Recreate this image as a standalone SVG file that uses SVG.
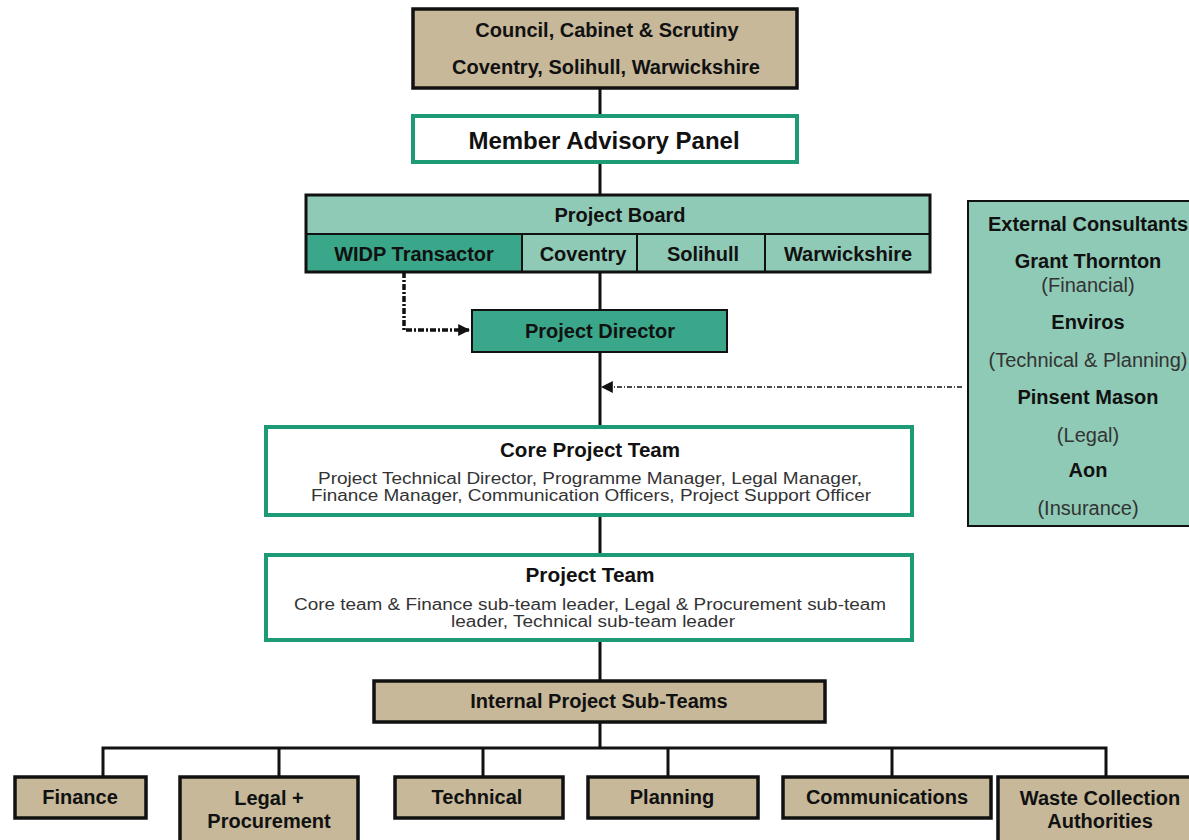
<svg xmlns="http://www.w3.org/2000/svg" width="1189" height="840" viewBox="0 0 1189 840">
<style>
text{font-family:"Liberation Sans",Arial,sans-serif;fill:#111;text-anchor:middle;dominant-baseline:central}
.b{font-weight:bold}
.tan{fill:#c6b899;stroke:#111;stroke-width:3.5}
.grn{fill:#fff;stroke:#1d9a76;stroke-width:4}
.lt{fill:#8fcab6;stroke:#111;stroke-width:2}
.dk{fill:#3aa68a;stroke:#111;stroke-width:2}
.ln{stroke:#111;stroke-width:3;fill:none}
.n{font-size:16px;fill:#333}
.r{font-size:20px;fill:#333}
.f{font-size:20px}
</style>
<defs>
<marker id="ah2" viewBox="0 0 10 10" refX="9" refY="5" markerWidth="12" markerHeight="12" orient="auto" markerUnits="userSpaceOnUse">
<path d="M0,0 L10,5 L0,10 z" fill="#111"/>
</marker>
</defs>
<g id="connectors">
<path class="ln" d="M600,88 V115 M600,162 V195 M600,272 V310 M600,352 V426 M600,515 V554 M600,640 V680 M600,722 V748"/>
<path class="ln" d="M103,776 V748 H1106 V776 M279,748 V776 M483,748 V776 M668,748 V776 M892,748 V776"/>
<path d="M404,272 V330 H469" fill="none" stroke="#111" stroke-width="3.5" stroke-dasharray="6,2,2,2" marker-end="url(#ah2)"/>
<path d="M962,387 H602" fill="none" stroke="#111" stroke-width="1.5" stroke-dasharray="5,2,1,2" marker-end="url(#ah2)"/>
</g>
<g id="council">
<rect class="tan" x="413" y="9" width="384" height="79"/>
<text class="b f" x="607" y="30">Council, Cabinet &amp; Scrutiny</text>
<text class="b f" x="606" y="67">Coventry, Solihull, Warwickshire</text>
</g>
<g id="member-advisory-panel">
<rect class="grn" x="413" y="116" width="384" height="46"/>
<text class="b" x="604" y="140" font-size="24">Member Advisory Panel</text>
</g>
<g id="project-board">
<rect class="lt" x="306" y="195" width="624" height="39"/>
<text class="b f" x="620" y="215">Project Board</text>
<rect class="dk" x="306" y="234" width="216" height="38"/>
<text class="b f" x="414" y="254">WIDP Transactor</text>
<rect class="lt" x="522" y="234" width="115" height="38"/>
<text class="b f" x="583" y="254">Coventry</text>
<rect class="lt" x="637" y="234" width="128" height="38"/>
<text class="b f" x="703" y="254">Solihull</text>
<rect class="lt" x="765" y="234" width="165" height="38"/>
<text class="b f" x="848" y="254">Warwickshire</text>
<rect x="306" y="195" width="624" height="77" fill="none" stroke="#111" stroke-width="3"/>
</g>
<g id="project-director">
<rect class="dk" x="472" y="310" width="255" height="42" stroke-width="3"/>
<text class="b f" x="600" y="331">Project Director</text>
</g>
<g id="external-consultants">
<rect class="lt" x="968" y="201" width="230" height="325" stroke-width="3.5"/>
<text class="b f" x="1088" y="224">External Consultants</text>
<text class="b f" x="1088" y="261">Grant Thornton</text>
<text class="r" x="1088" y="285">(Financial)</text>
<text class="b f" x="1088" y="322">Enviros</text>
<text class="r" x="1088" y="360">(Technical &amp; Planning)</text>
<text class="b f" x="1088" y="397">Pinsent Mason</text>
<text class="r" x="1088" y="435">(Legal)</text>
<text class="b f" x="1088" y="470">Aon</text>
<text class="r" x="1088" y="508">(Insurance)</text>
</g>
<g id="core-project-team">
<rect class="grn" x="266" y="427" width="646" height="88"/>
<text class="b" x="590" y="450" font-size="20" textLength="180" lengthAdjust="spacingAndGlyphs">Core Project Team</text>
<text class="n" x="590" y="478" textLength="544" lengthAdjust="spacingAndGlyphs">Project Technical Director, Programme Manager, Legal Manager,</text>
<text class="n" x="591" y="495" textLength="560" lengthAdjust="spacingAndGlyphs">Finance Manager, Communication Officers, Project Support Officer</text>
</g>
<g id="project-team">
<rect class="grn" x="266" y="555" width="646" height="85"/>
<text class="b" x="590" y="575" font-size="20" textLength="129" lengthAdjust="spacingAndGlyphs">Project Team</text>
<text class="n" x="590" y="604" textLength="592" lengthAdjust="spacingAndGlyphs">Core team &amp; Finance sub-team leader, Legal &amp; Procurement sub-team</text>
<text class="n" x="593" y="621" textLength="284" lengthAdjust="spacingAndGlyphs">leader, Technical sub-team leader</text>
</g>
<g id="internal-sub-teams">
<rect class="tan" x="374" y="681" width="451" height="41"/>
<text class="b f" x="599" y="701">Internal Project Sub-Teams</text>
</g>
<g id="finance">
<rect class="tan" x="15" y="777" width="131" height="41"/>
<text class="b f" x="80" y="797">Finance</text>
</g>
<g id="legal-procurement">
<rect class="tan" x="180" y="777" width="178" height="70"/>
<text class="b f" x="269" y="798">Legal +</text>
<text class="b f" x="269" y="821">Procurement</text>
</g>
<g id="technical">
<rect class="tan" x="395" y="777" width="168" height="41"/>
<text class="b f" x="477" y="797">Technical</text>
</g>
<g id="planning">
<rect class="tan" x="588" y="777" width="170" height="41"/>
<text class="b f" x="672" y="797">Planning</text>
</g>
<g id="communications">
<rect class="tan" x="783" y="777" width="208" height="41"/>
<text class="b f" x="887" y="797">Communications</text>
</g>
<g id="waste-collection">
<rect class="tan" x="998" y="777" width="200" height="70"/>
<text class="b f" x="1100" y="798">Waste Collection</text>
<text class="b f" x="1100" y="821">Authorities</text>
</g>
</svg>
